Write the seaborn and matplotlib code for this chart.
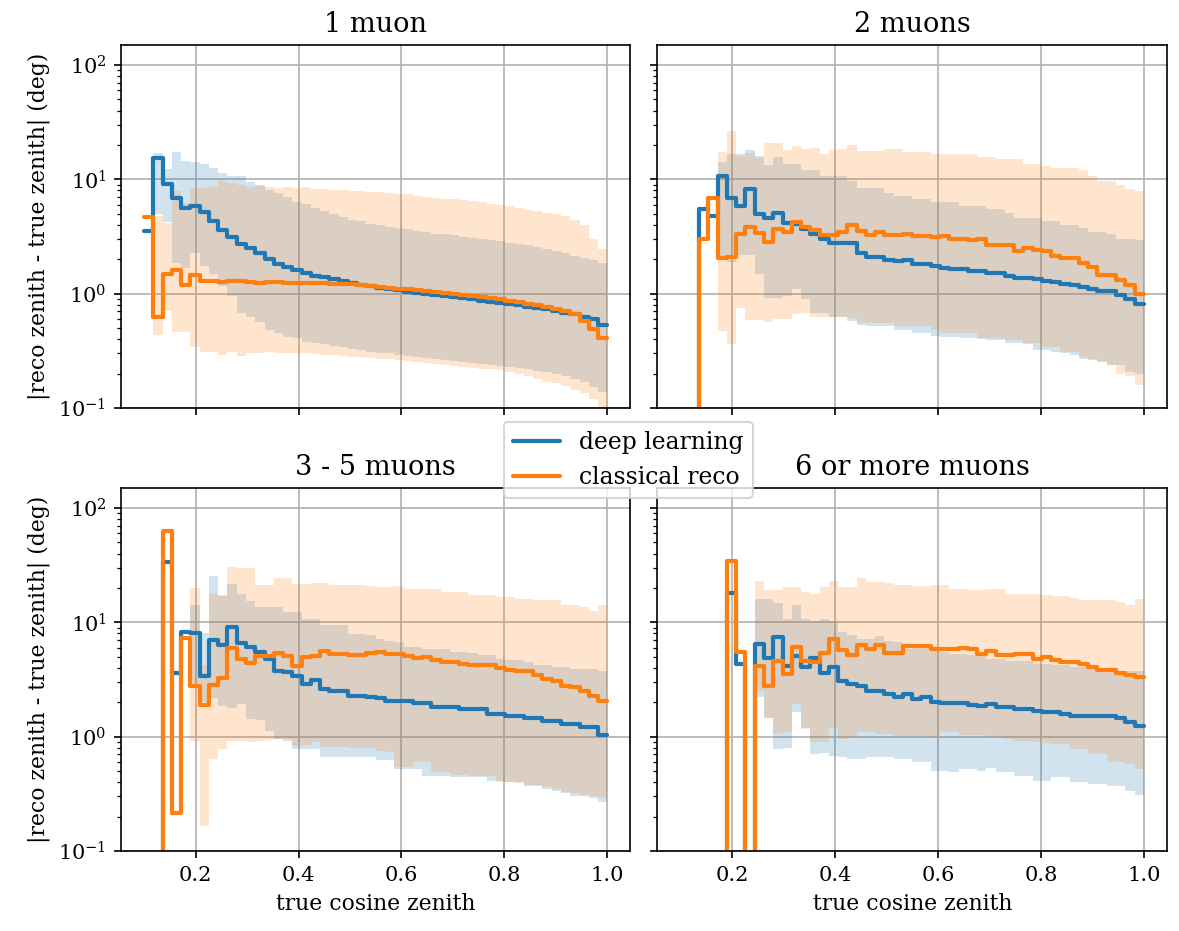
"""Angular resolution vs. true cosine zenith, per muon multiplicity."""

import numpy as np
import pandas as pd
import matplotlib
matplotlib.use("Agg")
import matplotlib.pyplot as plt
import seaborn as sns

nan = np.nan

# 50 bins in true cos(zenith) from 0.1 to 1.0
BIN_EDGES = np.linspace(0.1, 1.0, 51)

METHODS = ["deep learning", "classical reco"]
TITLES = ["1 muon", "2 muons", "3 - 5 muons", "6 or more muons"]

# ---- 1 muon ----
dl_med_1 = [3.57, 15.5, 9.2, 6.9, 5.6, 5.8, 5.2, 4.3, 3.6, 3.14,
            2.74, 2.52, 2.27, 2.01, 1.83, 1.70, 1.62, 1.52, 1.44, 1.39,
            1.35, 1.30, 1.24, 1.20, 1.16, 1.13, 1.10, 1.07, 1.04, 1.02,
            0.99, 0.97, 0.95, 0.93, 0.91, 0.89, 0.87, 0.85, 0.83, 0.81,
            0.79, 0.77, 0.75, 0.73, 0.71, 0.68, 0.66, 0.63, 0.60, 0.53]
dl_lo_1 = [nan, 5.0, 4.2, 1.86, 1.68, 2.27, 1.74, 1.5, 1.16, 0.95,
           0.68, 0.63, 0.57, 0.48, 0.45, 0.42, 0.41, 0.38, 0.37, 0.36,
           0.35, 0.34, 0.33, 0.32, 0.31, 0.305, 0.30, 0.29, 0.285, 0.28,
           0.275, 0.27, 0.265, 0.26, 0.255, 0.25, 0.245, 0.24, 0.235, 0.23,
           0.225, 0.22, 0.21, 0.205, 0.20, 0.19, 0.18, 0.17, 0.154, 0.139]
dl_hi_1 = [nan, 17.1, 12.4, 17.4, 14.5, 14.2, 13.5, 12.6, 11.4, 10.8,
           10.7, 9.5, 9.0, 8.0, 7.6, 7.0, 6.4, 6.1, 5.6, 5.3,
           5.0, 4.7, 4.45, 4.3, 4.1, 4.0, 3.85, 3.75, 3.65, 3.55,
           3.45, 3.35, 3.3, 3.25, 3.15, 3.1, 3.0, 2.95, 2.88, 2.8,
           2.72, 2.65, 2.55, 2.45, 2.35, 2.25, 2.15, 2.05, 1.99, 1.86]
cr_med_1 = [4.67, 0.63, 1.49, 1.62, 1.20, 1.47, 1.28, 1.28, 1.27, 1.30,
            1.28, 1.27, 1.25, 1.26, 1.26, 1.25, 1.25, 1.24, 1.23, 1.23,
            1.22, 1.21, 1.21, 1.19, 1.17, 1.15, 1.13, 1.11, 1.09, 1.07,
            1.05, 1.03, 1.01, 0.99, 0.97, 0.95, 0.93, 0.91, 0.89, 0.87,
            0.84, 0.82, 0.80, 0.77, 0.74, 0.70, 0.66, 0.58, 0.49, 0.41]
cr_lo_1 = [nan, 0.436, 0.70, 0.46, 0.46, 0.345, 0.31, 0.31, 0.29, 0.31,
           0.286, 0.30, 0.30, 0.31, 0.30, 0.30, 0.30, 0.30, 0.295, 0.29,
           0.29, 0.285, 0.28, 0.28, 0.275, 0.27, 0.27, 0.264, 0.26, 0.255,
           0.25, 0.245, 0.24, 0.235, 0.23, 0.225, 0.22, 0.218, 0.215, 0.205,
           0.20, 0.19, 0.18, 0.17, 0.165, 0.155, 0.145, 0.134, 0.12, 0.10]
cr_hi_1 = [nan, 4.83, 4.17, 7.9, 6.2, 8.4, 8.4, 8.8, 9.7, 9.3,
           9.0, 8.5, 8.7, 8.6, 8.4, 8.5, 8.4, 8.5, 8.3, 8.2,
           8.1, 8.0, 7.9, 7.9, 7.8, 7.7, 7.6, 7.5, 7.4, 7.2,
           7.0, 6.9, 6.8, 6.8, 6.6, 6.5, 6.3, 6.1, 5.95, 5.8,
           5.6, 5.4, 5.3, 5.1, 5.0, 4.77, 4.45, 4.0, 3.0, 2.46]

# ---- 2 muons ----
dl_med_2 = [0, 0, 5.46, 4.77, 10.7, 6.9, 5.9, 8.3, 5.0, 4.55,
            5.1, 4.17, 4.1, 3.7, 3.3, 2.98, 2.75, 2.75, 2.75, 2.27,
            2.10, 2.10, 1.99, 1.92, 1.99, 1.83, 1.83, 1.76, 1.68, 1.65,
            1.65, 1.57, 1.57, 1.52, 1.52, 1.44, 1.36, 1.36, 1.34, 1.28,
            1.26, 1.22, 1.20, 1.14, 1.10, 1.05, 1.05, 0.98, 0.90, 0.81]
dl_lo_2 = [nan, nan, nan, nan, 2.0, 1.9, 2.2, 2.2, 1.5, 0.92,
           0.92, 0.95, 1.1, 0.9, 0.68, 0.68, 0.62, 0.62, 0.58, 0.53,
           0.52, 0.52, 0.52, 0.477, 0.477, 0.45, 0.45, 0.43, 0.42, 0.42,
           0.41, 0.41, 0.40, 0.39, 0.39, 0.37, 0.37, 0.36, 0.32, 0.32,
           0.31, 0.30, 0.29, 0.27, 0.265, 0.255, 0.238, 0.238, 0.208, 0.20]
dl_hi_2 = [nan, nan, nan, nan, 14.2, 16.6, 16.6, 17.9, 16.0, 13.3,
           15.8, 13.5, 13.5, 12.1, 12.1, 10.8, 10.7, 10.7, 9.7, 8.4,
           8.4, 8.4, 7.6, 7.1, 7.1, 6.8, 6.8, 6.3, 6.3, 6.3,
           5.9, 5.9, 5.9, 5.5, 5.5, 5.1, 4.6, 4.6, 4.6, 4.3,
           4.3, 4.0, 4.0, 3.77, 3.5, 3.5, 3.3, 2.98, 2.98, 2.92]
cr_med_2 = [0, 0, 3.02, 6.9, 2.06, 2.08, 3.36, 3.85, 3.4, 2.84,
            3.69, 3.45, 4.22, 3.85, 3.64, 3.29, 3.29, 3.5, 4.03, 3.52,
            3.23, 3.45, 3.23, 3.23, 3.36, 3.18, 3.18, 3.12, 3.18, 2.98,
            2.98, 2.92, 2.98, 2.69, 2.69, 2.69, 2.35, 2.51, 2.43, 2.35,
            2.15, 2.06, 2.06, 1.86, 1.71, 1.47, 1.47, 1.33, 1.20, 1.00]
cr_lo_2 = [nan, nan, nan, nan, 0.47, 0.364, 0.75, 0.59, 0.59, 0.57,
           0.60, 0.60, 0.66, 0.68, 0.62, 0.62, 0.63, 0.63, 0.61, 0.55,
           0.55, 0.55, 0.55, 0.52, 0.52, 0.52, 0.52, 0.48, 0.45, 0.45,
           0.45, 0.45, 0.41, 0.41, 0.41, 0.39, 0.39, 0.37, 0.37, 0.34,
           0.34, 0.31, 0.31, 0.28, 0.27, 0.26, 0.238, 0.20, 0.19, 0.16]
cr_hi_2 = [nan, nan, nan, nan, 17.4, 26.5, 16.0, 17.0, 15.5, 20.6,
           21.0, 18.0, 19.6, 18.3, 19.0, 16.6, 18.0, 18.6, 19.9, 17.7,
           17.7, 17.7, 18.6, 18.6, 17.4, 17.4, 17.4, 16.6, 16.6, 16.6,
           16.6, 16.6, 15.8, 15.8, 15.0, 15.0, 15.0, 13.5, 13.5, 13.1,
           12.7, 12.7, 12.7, 12.0, 10.7, 9.7, 9.7, 9.0, 8.2, 7.9]

# ---- 3 - 5 muons ----
dl_med_3 = [0, 0, 33.5, 3.58, 8.28, 8.0, 3.42, 7.05, 6.38, 9.04,
            6.6, 6.13, 5.47, 4.78, 3.78, 3.65, 3.37, 2.89, 3.15, 2.62,
            2.53, 2.53, 2.29, 2.29, 2.21, 2.17, 2.07, 2.07, 2.07, 1.96,
            1.96, 1.81, 1.81, 1.81, 1.75, 1.75, 1.75, 1.58, 1.58, 1.53,
            1.53, 1.46, 1.46, 1.38, 1.38, 1.29, 1.29, 1.21, 1.21, 1.04]
dl_lo_3 = [nan, nan, nan, nan, nan, 2.8, 2.0, 2.2, 1.87, 1.8,
           1.93, 1.43, 1.4, 1.13, 0.95, 0.92, 0.78, 0.78, 0.78, 0.66,
           0.66, 0.66, 0.66, 0.66, 0.66, 0.62, 0.62, 0.52, 0.52, 0.52,
           0.455, 0.455, 0.455, 0.44, 0.44, 0.44, 0.44, 0.41, 0.41, 0.40,
           0.40, 0.37, 0.37, 0.347, 0.335, 0.32, 0.30, 0.30, 0.29, 0.27]
dl_hi_3 = [nan, nan, nan, nan, nan, 14.2, 8.1, 25.6, 17.0, 21.6,
           17.7, 15.5, 13.5, 13.6, 13.6, 12.3, 12.3, 10.8, 10.8, 9.4,
           9.4, 9.4, 7.9, 7.9, 7.7, 7.2, 6.9, 6.7, 6.07, 6.07,
           5.87, 5.87, 5.87, 5.5, 5.5, 5.4, 5.14, 5.14, 4.8, 4.64,
           4.64, 4.5, 4.25, 4.25, 4.06, 4.06, 3.92, 3.92, 3.92, 3.72]
cr_med_3 = [0, 0, 63.0, 0.215, 7.25, 2.79, 1.91, 2.85, 3.26, 6.0,
            4.78, 4.41, 5.04, 5.1, 5.36, 5.1, 4.18, 4.95, 5.1, 5.57,
            5.3, 5.3, 5.2, 5.2, 5.4, 5.5, 5.3, 5.3, 5.1, 4.87,
            4.96, 4.64, 4.5, 4.5, 4.34, 4.2, 4.2, 4.2, 3.97, 3.84,
            3.72, 3.72, 3.43, 3.2, 3.1, 2.8, 2.71, 2.53, 2.29, 2.07]
cr_lo_3 = [nan, nan, nan, nan, nan, 0.92, 0.167, 0.64, 0.78, 0.92,
           0.92, 0.89, 0.92, 0.94, 0.95, 0.95, 0.83, 0.85, 0.89, 0.81,
           0.81, 0.81, 0.80, 0.79, 0.79, 0.75, 0.73, 0.54, 0.54, 0.595,
           0.595, 0.49, 0.49, 0.46, 0.46, 0.455, 0.455, 0.455, 0.40, 0.40,
           0.39, 0.38, 0.38, 0.36, 0.35, 0.33, 0.325, 0.31, 0.30, 0.294]
cr_hi_3 = [nan, nan, nan, nan, nan, 19.8, 4.2, 17.7, 17.3, 30.6,
           29.6, 29.6, 21.1, 21.1, 24.2, 24.2, 21.8, 21.8, 22.3, 22.3,
           21.1, 21.1, 21.1, 21.1, 21.0, 20.4, 20.4, 20.7, 19.7, 19.7,
           19.7, 19.7, 18.5, 18.5, 18.5, 17.3, 17.3, 17.4, 16.7, 16.7,
           16.1, 16.1, 15.6, 15.6, 15.6, 14.1, 14.1, 13.6, 12.7, 14.3]

# ---- 6 or more muons ----
dl_med_4 = [0, 0, 0, 0, 0, 18.1, 4.32, 0, 6.46, 4.84,
            7.39, 4.18, 5.11, 4.04, 4.84, 3.6, 4.04, 3.09, 2.89, 2.77,
            2.53, 2.53, 2.37, 2.21, 2.37, 2.14, 2.21, 2.03, 1.96, 1.96,
            1.96, 1.90, 1.85, 1.95, 1.81, 1.81, 1.75, 1.75, 1.69, 1.63,
            1.63, 1.58, 1.53, 1.53, 1.51, 1.51, 1.51, 1.45, 1.35, 1.23]
dl_lo_4 = [nan, nan, nan, nan, nan, nan, nan, nan, 2.21, 1.45,
           0.78, 0.79, 1.63, 1.2, 0.7, 0.72, 0.68, 0.66, 0.64, 0.64,
           0.67, 0.66, 0.66, 0.64, 0.64, 0.60, 0.60, 0.50, 0.50, 0.487,
           0.52, 0.52, 0.50, 0.53, 0.487, 0.487, 0.455, 0.455, 0.41, 0.41,
           0.44, 0.44, 0.40, 0.40, 0.385, 0.385, 0.37, 0.37, 0.336, 0.31]
dl_hi_4 = [nan, nan, nan, nan, nan, nan, nan, nan, 16.0, 16.0,
           14.9, 10.7, 14.1, 10.7, 10.3, 10.7, 10.3, 8.2, 7.8, 7.2,
           7.2, 7.6, 6.9, 6.7, 5.8, 6.3, 6.3, 6.0, 5.5, 5.3,
           5.3, 5.14, 5.14, 4.8, 4.8, 4.6, 4.6, 4.6, 4.34, 4.34,
           4.2, 4.2, 4.06, 4.06, 3.9, 3.9, 3.67, 3.67, 3.72, 3.72]
cr_med_4 = [0, 0, 0, 0, 0, 34.6, 5.47, 0, 4.18, 2.79,
            4.62, 3.53, 6.13, 4.62, 4.47, 5.36, 7.19, 5.68, 5.14, 6.28,
            5.87, 6.28, 5.42, 5.42, 6.2, 6.2, 6.2, 5.87, 5.8, 5.8,
            5.95, 5.8, 5.3, 5.6, 5.14, 5.14, 5.3, 5.3, 4.8, 4.95,
            4.64, 4.54, 4.54, 4.34, 4.06, 3.87, 3.87, 3.61, 3.43, 3.32]
cr_lo_4 = [nan, nan, nan, nan, nan, nan, nan, nan, 2.52, 1.45,
           1.05, 1.1, 1.93, 1.17, 0.89, 0.9, 1.2, 0.95, 0.99, 1.09,
           1.09, 1.05, 1.05, 1.02, 1.02, 1.02, 1.02, 1.0, 1.09, 1.09,
           1.03, 1.03, 1.03, 0.99, 0.99, 0.95, 0.92, 0.92, 0.90, 0.88,
           0.86, 0.86, 0.78, 0.78, 0.705, 0.705, 0.60, 0.60, 0.575, 0.52]
cr_hi_4 = [nan, nan, nan, nan, nan, nan, nan, nan, 23.1, 19.2,
           19.2, 20.2, 20.2, 18.5, 17.7, 20.2, 22.9, 20.4, 20.4, 24.2,
           22.5, 22.5, 22.0, 21.3, 21.3, 21.0, 21.0, 21.2, 21.2, 19.7,
           19.7, 19.1, 19.1, 19.4, 19.4, 17.8, 17.8, 17.8, 17.8, 17.2,
           16.9, 16.9, 16.5, 15.8, 15.8, 15.8, 15.8, 15.0, 14.3, 16.1]

PANELS = [
    {"deep learning": (dl_med_1, dl_lo_1, dl_hi_1), "classical reco": (cr_med_1, cr_lo_1, cr_hi_1)},
    {"deep learning": (dl_med_2, dl_lo_2, dl_hi_2), "classical reco": (cr_med_2, cr_lo_2, cr_hi_2)},
    {"deep learning": (dl_med_3, dl_lo_3, dl_hi_3), "classical reco": (cr_med_3, cr_lo_3, cr_hi_3)},
    {"deep learning": (dl_med_4, dl_lo_4, dl_hi_4), "classical reco": (cr_med_4, cr_lo_4, cr_hi_4)},
]

sns.set_theme(style="ticks", rc={
    "axes.grid": True, "grid.color": "#b0b0b0", "grid.linewidth": 0.8,
    "axes.edgecolor": "black", "axes.linewidth": 0.8,
    "text.color": "black", "axes.labelcolor": "black",
    "xtick.color": "black", "ytick.color": "black",
    "xtick.major.size": 3.5, "ytick.major.size": 3.5,
    "xtick.minor.size": 2, "ytick.minor.size": 2,
    "xtick.major.width": 0.8, "ytick.major.width": 0.8,
    "xtick.minor.width": 0.6, "ytick.minor.width": 0.6,
    "xtick.labelsize": 10, "ytick.labelsize": 10, "axes.labelsize": 10.5,
})
plt.rcParams["font.family"] = ["DejaVu Serif"]
plt.rcParams["mathtext.fontset"] = "dejavuserif"

COLORS = dict(zip(METHODS, sns.color_palette("tab10", 2)))


def stairs(values):
    """Repeat the last bin so steps-post reaches the last edge."""
    v = np.asarray(values, dtype=float)
    return np.append(v, v[-1])


def draw_panel(ax, title, series):
    ax.set_yscale("log")
    for name in METHODS:
        med, lo, hi = series[name]
        ax.fill_between(BIN_EDGES, stairs(lo), stairs(hi), step="post",
                        color=COLORS[name], alpha=0.2, linewidth=0)
    for name in METHODS:
        med = series[name][0]
        df = pd.DataFrame({"cos_zenith": BIN_EDGES, "err": stairs(med)})
        sns.lineplot(data=df, x="cos_zenith", y="err", ax=ax, color=COLORS[name],
                     linewidth=2, drawstyle="steps-post", estimator=None,
                     sort=False, label=name, legend=False)
    ax.set_title(title, fontsize=13)
    ax.set_xlabel("")
    ax.set_ylabel("")
    ax.grid(True, which="major")


fig, axes = plt.subplots(2, 2, figsize=(7.86, 6.207), dpi=150, sharex=True, sharey=True)
for ax, title, series in zip(axes.flat, TITLES, PANELS):
    draw_panel(ax, title, series)

axes[0, 0].set_ylim(0.1, 150)
axes[0, 0].set_xticks([0.2, 0.4, 0.6, 0.8, 1.0])
for ax in axes[:, 0]:
    ax.set_ylabel("|reco zenith - true zenith| (deg)")
for ax in axes[1, :]:
    ax.set_xlabel("true cosine zenith")

handles, labels = axes[0, 0].get_legend_handles_labels()
fig.subplots_adjust(left=0.1026, right=0.9898, top=0.9517, bottom=0.0859,
                    wspace=0.053, hspace=0.22)
fig.legend(handles, labels, loc="center", bbox_to_anchor=(0.533, 0.506),
           fontsize=11.3, frameon=True)

fig.savefig("out.png", dpi=150)
